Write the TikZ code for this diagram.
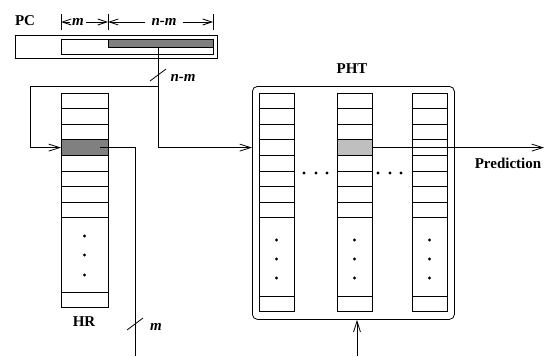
\documentclass[tikz,border=0pt]{standalone}
\usepackage{fontspec}
\setmainfont{Liberation Serif}
\usetikzlibrary{arrows.meta,positioning,calc}

\begin{document}
\begin{tikzpicture}[
  x=1pt, y=-1pt,
  line width=0.8pt,
  lab/.style={font=\fontsize{15}{18}\selectfont\bfseries},
  var/.style={font=\fontsize{15}{18}\selectfont\bfseries\itshape, inner sep=1pt},
  cell/.style={draw, anchor=north west, inner sep=0pt, outer sep=0pt, minimum height=15.6pt},
  hrcell/.style={cell, minimum width=47pt},
  phtcell/.style={cell, minimum width=35pt},
  barb/.style={-{Straight Barb[length=11pt,width=7pt]}},
  dimbarb/.style={-{Straight Barb[length=9pt,width=6pt]}},
  dot/.style={circle, fill, inner sep=0pt, minimum size=3.4pt}
]
\useasboundingbox (0,0) rectangle (546,356);

% program counter
\node[lab] (pclab) at (25,21) {PC};
\node[draw, anchor=north west, inner sep=0pt, minimum width=202pt, minimum height=23pt] (pc) at (15,35) {};
\node[draw, anchor=north west, inner sep=0pt, minimum width=152pt, minimum height=15pt] (pcin) at (61,39) {};
\node[draw, fill=black!50, anchor=north west, inner sep=0pt, minimum width=105pt, minimum height=8pt] (pchi) at (108,39) {};

% field widths
\foreach \x in {61,108,213}
  \draw (\x,14) -- (\x,30);
\node[var, inner xsep=2pt] (dm) at (78,22) {m};
\node[var, inner xsep=6pt] (dnm) at (164,22) {n-m};
\draw[dimbarb] (dm.west) -- (61,22);
\draw[dimbarb] (dm.east) -- (108,22);
\draw[dimbarb] (dnm.west) -- (108,22);
\draw[dimbarb] (dnm.east) -- (213,22);

% history register
\foreach \i in {0,...,7}
  \node[hrcell] (hr\i) at (61,{93+15.6*\i}) {};
\node[hrcell, fill=black!50] (hrsel) at (61,{93+15.6*3}) {};
\node[hrcell, minimum height=74.2pt] (hrdots) at (61,217.8) {};
\node[hrcell] (hrlast) at (61,292) {};
\foreach \y in {236,255,275}
  \node[dot] at (84.5,\y) {};
\node[lab] (hrlab) at (84,322) {HR};

% pattern history table
\node[draw, rounded corners=5pt, anchor=north west, inner sep=0pt,
      minimum width=202pt, minimum height=233pt] (pht) at (252,86) {};
\node[lab] (phtlab) at (352,69) {PHT};
\foreach \c/\x in {a/259,b/337,c/412} {
  \foreach \i in {0,...,7}
    \node[phtcell] (\c\i) at (\x,{93+15.6*\i}) {};
  \node[phtcell, minimum height=78.2pt] (\c dots) at (\x,217.8) {};
  \node[phtcell] (\c last) at (\x,296) {};
  \foreach \y in {240,259,278}
    \node[dot] at ({\x+17.5},\y) {};
}
\node[phtcell, fill=black!25] (bsel) at (337,{93+15.6*3}) {};
\foreach \x in {304,316,327,378,390,401}
  \node[dot] at (\x,173) {};

% buses
\coordinate (tap) at (158,47);
\coordinate (split) at (158,86);
\coordinate (loop) at (30,86);
\draw (tap) -- (split) -- (loop);
\draw[barb] (loop) |- (hrsel.west);
\draw[barb] (split) |- (pht.west |- hrsel.center);
\draw (150,81) -- (166,69);
\node[var] (nmlab) at (183,78) {n-m};

\coordinate (hrtap) at ($(hrsel.east)+(-8,0)$);
\coordinate (hrdown) at (135,356);
\draw (hrtap) -| (hrdown);
\draw (127,330) -- (143,318);
\node[var] (mlab) at (156,327) {m};

\coordinate (predend) at (544,148);
\draw[barb] (bsel.east) -- (bsel.east -| predend);
\node[lab] (predlab) at (508,163) {Prediction};

\coordinate (phtin) at (357,356);
\draw[barb] (phtin) -- (phtin |- pht.south);
\end{tikzpicture}
\end{document}
